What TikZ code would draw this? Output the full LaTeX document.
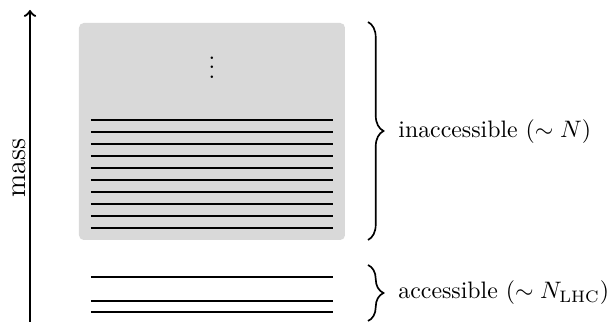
\documentclass[tikz,border=0pt]{standalone}
\usetikzlibrary{decorations.pathreplacing}
\begin{document}
\begin{tikzpicture}[x=0.42pt,y=-0.42pt,
  level/.style={line width=0.95pt},
  bracestyle/.style={decorate, decoration={brace, amplitude=6.5pt}, line width=0.7pt},
  lab/.style={anchor=west, inner sep=0pt}]
\useasboundingbox (0,0) rectangle (614,322);
% shaded region of heavy states
\fill[gray!30, rounded corners=2pt] (79,23) rectangle (345,240);
% mass levels
\foreach \y in {120,132,...,228} \draw[level] (91,\y) -- (333,\y);
\foreach \y in {276.7,300.7,312.3} \draw[level] (91,\y) -- (333,\y);
\node[anchor=base] (dots) at (212,78.5) {$\vdots$};
% mass axis
\coordinate (axbot) at (30,322);
\coordinate (axtop) at (30,10);
\draw[->, line width=0.95pt] (axbot) -- (axtop);
\node[rotate=90, anchor=base] (mass) at (25,168) {\large mass};
% braces and labels
\coordinate (b1t) at (368,22);
\coordinate (b1b) at (368,240);
\draw[bracestyle] (b1t) -- (b1b);
\node[lab] (inacc) at (398,132) {inaccessible ($\sim N$)};
\coordinate (b2t) at (368,265);
\coordinate (b2b) at (368,321);
\draw[bracestyle] (b2t) -- (b2b);
\node[lab] (acc) at (398,293) {accessible ($\sim N_{\mathrm{LHC}}$)};
\end{tikzpicture}
\end{document}
